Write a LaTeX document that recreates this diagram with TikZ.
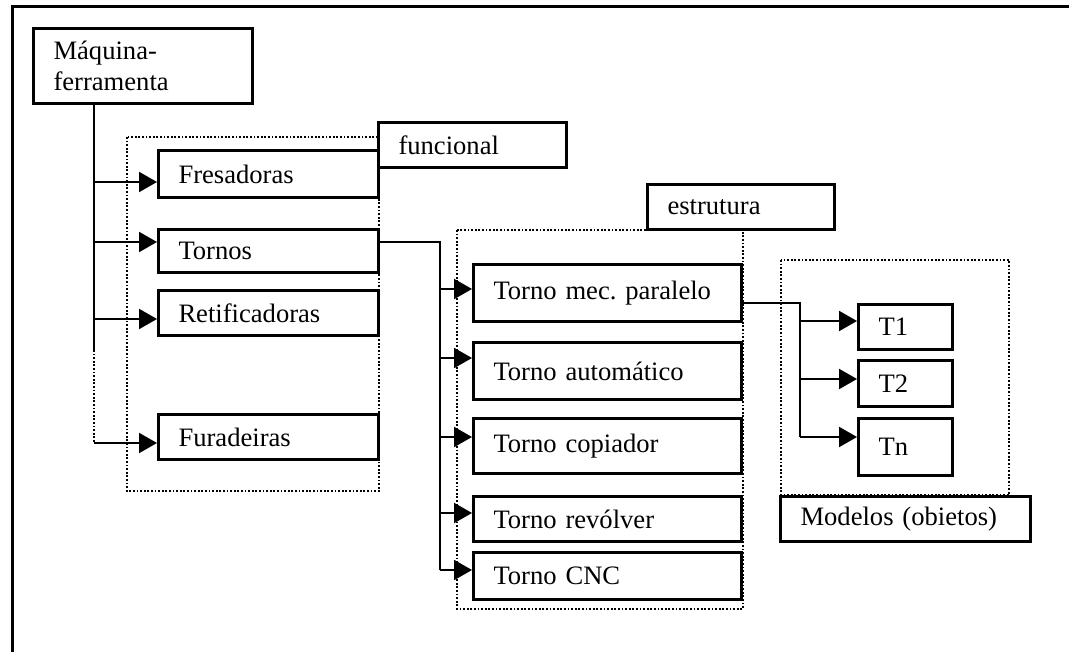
\documentclass[tikz,border=0pt]{standalone}
\usepackage{fontspec}
\setmainfont{Liberation Serif}
\usetikzlibrary{positioning,arrows.meta}
\frenchspacing

\tikzset{
  caixa/.style={draw, fill=white, line width=1.5pt, anchor=north west,
    inner xsep=10pt, inner ysep=0pt, align=left,
    font=\fontsize{13.3}{15.5}\selectfont},
  liga/.style={line width=1pt},
  seta/.style={liga, -{Triangle[length=9pt,width=10pt]}},
  grupo/.style={line width=0.9pt, dash pattern=on 0.9pt off 0.9pt},
  moldura/.style={line width=1.5pt},
}

\begin{document}
\begin{tikzpicture}[x=0.5pt,y=-0.5pt]
 \useasboundingbox (0,0) rectangle (1069,652);
 \draw[moldura] (12,652) -- (12,7) -- (1069,7);

 % grupos pontilhados
 \draw[grupo] (127,137) rectangle (379,491);
 \draw[grupo] (457,230) rectangle (743,609);
 \draw[grupo] (781,260) rectangle (1009,495);

 % nivel funcional
 \node[caixa, text width=89.5pt, minimum height=37.5pt] (maq) at (32,27) {Máquina-\\ferramenta};
 \node[caixa, text width=90pt, minimum height=23.5pt] (fres) at (157,149) {Fresadoras};
 \node[caixa, text width=90pt, minimum height=21.5pt, below right=14.5pt and 0pt of fres.south west] (torn) {Tornos};
 \node[caixa, text width=90pt, minimum height=22.5pt, below right=7.5pt and 0pt of torn.south west] (retif) {Retificadoras};
 \node[caixa, text width=90pt, minimum height=22.5pt, below right=38pt and 0pt of retif.south west] (fura) {Furadeiras};
 \node[caixa, text width=74pt, minimum height=22.5pt] (func) at (377,121) {funcional};

 % nivel estrutura
 \node[caixa, text width=73.5pt, minimum height=22.5pt] (estr) at (646,183) {estrutura};
 \node[caixa, text width=114pt, minimum height=28.5pt] (tmp) at (472,263) {Torno mec. paralelo};
 \node[caixa, text width=114pt, minimum height=28.5pt, below right=9pt and 0pt of tmp.south west] (taut) {Torno automático};
 \node[caixa, text width=114pt, minimum height=27.5pt, below right=8pt and 0pt of taut.south west] (tcop) {Torno copiador};
 \node[caixa, text width=114pt, minimum height=22.5pt, below right=10pt and 0pt of tcop.south west] (trev) {Torno revólver};
 \node[caixa, text width=114pt, minimum height=23.5pt, below right=4pt and 0pt of trev.south west] (tcnc) {Torno CNC};

 % modelos
 \node[caixa, text width=27pt, minimum height=22.5pt] (t1) at (857,303) {T1};
 \node[caixa, text width=27pt, minimum height=23pt, below right=4pt and 0pt of t1.south west] (t2) {T2};
 \node[caixa, text width=27pt, minimum height=28.5pt, below right=4.5pt and 0pt of t2.south west] (tn) {Tn};
 \node[caixa, text width=105pt, minimum height=22.5pt] (mod) at (779,495) {Modelos (obietos)};

 % ligacoes maquina -> funcional
 \path (maq.south west) ++(62,0) coordinate (m0);
 \coordinate (m1) at ([yshift=-6.5pt]retif.south west);
 \foreach \nome/\dy in {fres/-4pt, torn/4.5pt, retif/-3pt, fura/-3pt} {
   \coordinate (a-\nome) at ([yshift=\dy]\nome.west);
   \draw[seta] (m0 |- a-\nome) -- (a-\nome);
 }
 \draw[liga] (m0) -- (m0 |- m1);
 \draw[liga, grupo] (m0 |- m1) -- (m0 |- a-fura);

 % ligacoes tornos -> estrutura
 \coordinate (b0) at ([yshift=4.5pt]torn.east);
 \path (b0) ++(60,0) coordinate (t0);
 \foreach \nome/\dy in {tmp/2pt, taut/6.5pt, tcop/4.5pt, trev/3pt, tcnc/3pt} {
   \coordinate (a-\nome) at ([yshift=\dy]\nome.west);
   \draw[seta] (t0 |- a-\nome) -- (a-\nome);
 }
 \draw[liga] (b0) -- (t0) -- (t0 |- a-tcnc);

 % ligacoes paralelo -> modelos
 \coordinate (c0) at ([yshift=-5pt]tmp.east);
 \path (c0) ++(57,0) coordinate (p0);
 \foreach \nome/\dy in {t1/3pt, t2/2.25pt, tn/5pt} {
   \coordinate (a-\nome) at ([yshift=\dy]\nome.west);
   \draw[seta] (p0 |- a-\nome) -- (a-\nome);
 }
 \draw[liga] (c0) -- (p0) -- (p0 |- a-tn);
\end{tikzpicture}
\end{document}
